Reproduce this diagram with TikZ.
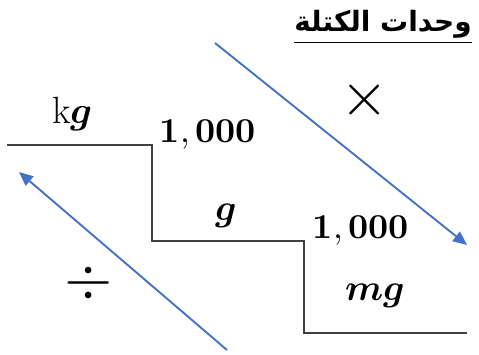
\documentclass[tikz,border=0pt]{standalone}
\usepackage{amsmath}
\usepackage{fontspec}
\usepackage{unicode-math}
\setmathfont{Latin Modern Math}
\newfontfamily\arabicfont[Script=Arabic]{DejaVu Sans}
\TeXXeTstate=1
\usetikzlibrary{arrows.meta}
\definecolor{arrowblue}{RGB}{68,114,196}

\begin{document}
\begin{tikzpicture}[
        x=1pt,
        y=-1pt,
        stair/.style={
            draw=black!75,
            line width=1.9pt
        },
        arrow/.style={
            -{Triangle[length=14pt,width=12pt]},
            draw=arrowblue,
            line width=1.9pt
        },
        unit/.style={
            anchor=base,
            inner sep=0pt,
            font=\fontsize{37}{40}\selectfont
        },
        factor/.style={
            anchor=base,
            inner sep=0pt,
            font=\fontsize{35}{40}\selectfont
        },
        sign/.style={
            inner sep=0pt,
            font=\fontsize{62}{64}\selectfont
        }
    ]

        \useasboundingbox (0,0) rectangle (479,354);

        \node[inner sep=0pt, anchor=south, font=\fontsize{28}{32}\selectfont\bfseries] (title) at (383,44)
            {\underline{\arabicfont\beginR وحدات الكتلة\endR}};

        \node[unit, font=\fontsize{38}{40}\selectfont] (kg) at (72,123) {$\mathrm{k}\symbfit{g}$};
        \node[factor] (f1) at (208,142) {$\symbf{1,000}$};
        \node[unit] (g) at (226,220) {$\symbfit{g}$};
        \node[factor] (f2) at (361,238) {$\symbf{1,000}$};
        \node[unit] (mg) at (375,300) {$\symbfit{mg}$};

        \node[sign] (times) at (365,100) {$\times$};
        \node[sign] (divide) at (89,283) {$\div$};

        \coordinate (s0) at (7,145);
        \coordinate (s1) at (152,145);
        \coordinate (s2) at (152,241);
        \coordinate (s3) at (304,241);
        \coordinate (s4) at (304,333);
        \coordinate (s5) at (467,333);

        \draw[stair] (s0) -- (s1) -- (s2) -- (s3) -- (s4) -- (s5);

        \coordinate (mulstart) at (215,43);
        \coordinate (mulend) at (467,245);
        \coordinate (divstart) at (227,350);
        \coordinate (divend) at (19,172);

        \draw[arrow] (mulstart) -- (mulend);
        \draw[arrow] (divstart) -- (divend);

    \end{tikzpicture}
\end{document}
